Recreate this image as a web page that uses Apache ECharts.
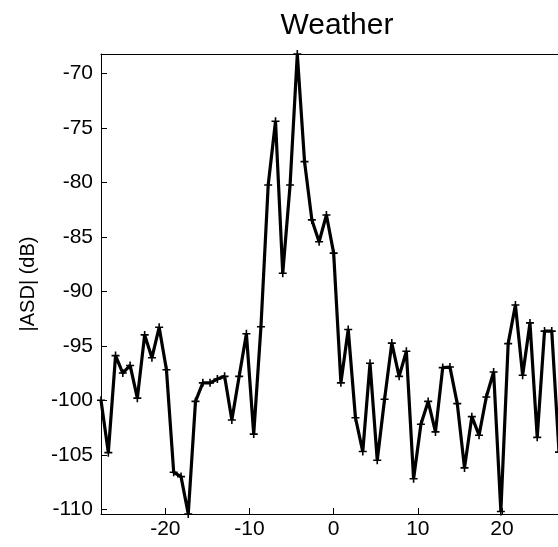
<!DOCTYPE html>
<html>
<head>
<meta charset="utf-8">
<script src="https://cdn.jsdelivr.net/npm/echarts@6/dist/echarts.min.js"></script>
<style>
html,body{margin:0;padding:0;background:#fff;overflow:hidden;}
#chart{width:562px;height:547px;}
</style>
</head>
<body>
<div id="chart"></div>
<script>
// Frequency bins (x)
var freq = [
  -27.65, -26.78, -25.92, -25.06, -24.19, -23.33, -22.46, -21.60, -20.74, -19.87,
  -19.01, -18.14, -17.28, -16.42, -15.55, -14.69, -13.82, -12.96, -12.10, -11.23,
  -10.37, -9.50, -8.64, -7.78, -6.91, -6.05, -5.18, -4.32, -3.46, -2.59,
  -1.73, -0.86, 0.00, 0.86, 1.73, 2.59, 3.46, 4.32, 5.18, 6.05,
  6.91, 7.78, 8.64, 9.50, 10.37, 11.23, 12.10, 12.96, 13.82, 14.69,
  15.55, 16.42, 17.28, 18.14, 19.01, 19.87, 20.74, 21.60, 22.46, 23.33,
  24.19, 25.06, 25.92, 26.78
];
// |ASD| in dB
var asd = [
  -100.0, -104.8, -95.9, -97.5, -96.8, -99.8, -94.0, -96.1, -93.3, -97.2,
  -106.6, -107.0, -110.43, -100.1, -98.4, -98.4, -98.05, -97.8, -101.8, -97.8,
  -93.9, -103.1, -93.25, -80.25, -74.4, -88.35, -80.25, -68.23, -78.1, -83.45,
  -85.45, -83.0, -86.5, -98.4, -93.5, -101.6, -104.7, -96.6, -105.5, -99.9,
  -94.75, -97.8, -95.5, -107.2, -102.2, -100.1, -102.9, -97.0, -96.95, -100.3,
  -106.2, -101.5, -103.2, -99.7, -97.4, -110.2, -94.8, -91.25, -97.7, -92.9,
  -103.4, -93.65, -93.65, -104.75
];
var titleText = 'Weather';
var yName = '|ASD| (dB)';

var points = freq.map(function (f, i) { return [f, asd[i]]; });
var FONT = '"Liberation Sans", Arial, Helvetica, sans-serif';

function niceLabel(step) {
  return function (v) {
    var r = v / step;
    if (Math.abs(r - Math.round(r)) > 1e-6) return '';
    return String(Math.round(v));
  };
}

var chart = echarts.init(document.getElementById('chart'), null, {renderer: 'canvas'});
chart.setOption({
  animation: false,
  backgroundColor: '#ffffff',
  title: {
    text: titleText,
    left: 332, textAlign: 'center',
    top: 6,
    textStyle: {fontFamily: FONT, fontSize: 30, fontWeight: 'normal', color: '#000'}
  },
  grid: {left: 101, right: 2, top: 54, bottom: 33, containLabel: false},
  xAxis: [{
    type: 'value',
    min: function (v) { return v.min; },
    max: function (v) { return v.max; },
    splitNumber: 5,
    axisLine: {show: true, onZero: false, lineStyle: {color: '#000', width: 1}},
    axisTick: {show: true, inside: true, length: 6, lineStyle: {color: '#000'}},
    axisLabel: {fontFamily: FONT, fontSize: 21, color: '#000', margin: 5, formatter: niceLabel(10)},
    splitLine: {show: false}
  }, {
    type: 'value', position: 'top',
    min: function (v) { return v.min; },
    max: function (v) { return v.max; },
    splitNumber: 5,
    axisLine: {show: true, onZero: false, lineStyle: {color: '#000', width: 1}},
    axisTick: {show: true, inside: true, length: 6, lineStyle: {color: '#000'}},
    axisLabel: {show: false},
    splitLine: {show: false}
  }],
  yAxis: {
    type: 'value',
    min: function (v) { return v.min; },
    max: function (v) { return v.max; },
    splitNumber: 8,
    name: yName,
    nameLocation: 'middle',
    nameRotate: 90,
    nameGap: 63,
    nameTextStyle: {fontFamily: FONT, fontSize: 20, color: '#000'},
    axisLine: {show: true, onZero: false, lineStyle: {color: '#000', width: 1}},
    axisTick: {show: true, inside: true, length: 6, lineStyle: {color: '#000'}},
    axisLabel: {fontFamily: FONT, fontSize: 21, color: '#000', margin: 8, formatter: niceLabel(5)},
    splitLine: {show: false}
  },
  series: [{
    type: 'line',
    xAxisIndex: 0,
    data: points,
    symbol: 'path://M2,0H3V2H5V3H3V5H2V3H0V2H2Z',
    symbolSize: 8,
    showSymbol: true,
    itemStyle: {color: '#000'},
    lineStyle: {color: '#000', width: 3.2},
    clip: true
  }]
});
</script>
</body>
</html>
